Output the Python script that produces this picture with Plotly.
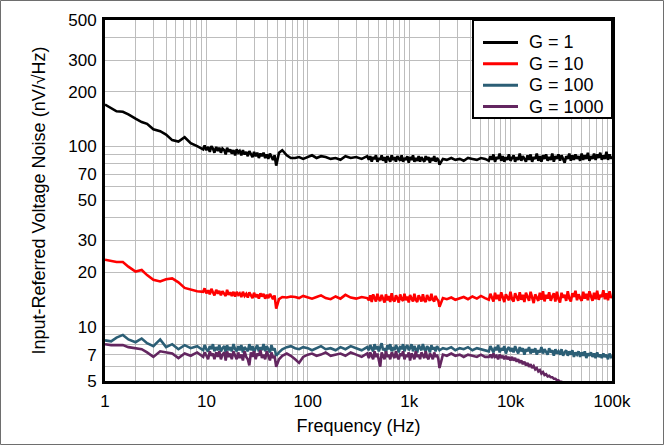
import plotly.graph_objects as go

# ---------------- data ----------------
freq_a = [1, 1.15, 1.3, 1.5, 1.7, 2.0, 2.3, 2.6, 3.0, 3.5, 4.0, 4.6, 5.3, 6.1, 7.0, 8.1]
freq_b = [9.3, 9.6, 10.0, 10.4, 10.8, 11.2, 11.6, 12.0, 12.5, 13.0,
          13.4, 13.9, 14.4, 15.0, 15.5, 16.0, 16.6, 17.2, 17.8, 18.5,
          19.2, 19.9, 20.6, 21.3, 22.1, 22.9, 23.8, 24.7, 25.6, 26.5,
          27.5, 28.5, 29.5, 30.6, 31.7, 32.9, 34.1, 35.3, 36.6, 38.0,
          39.4, 40.8, 42.3, 43.8, 45.4, 47.0, 48.8]
freq_c = [52, 56, 62, 68, 75, 82, 90, 100, 110, 122, 135, 150, 168, 188, 210, 235, 265, 300, 340, 385]
freq_d = [400, 413, 427, 441, 455, 470, 486, 502, 518, 535,
          553, 571, 590, 609, 629, 650, 671, 693, 716, 740,
          764, 789, 815, 842, 870, 898, 928, 958, 990, 1020,
          1055, 1090, 1125, 1160, 1200, 1240, 1280, 1320, 1365, 1410,
          1455, 1500, 1550, 1600, 1655, 1710, 1765, 1820, 1880, 1940, 1990]
freq_e = [2150, 2350, 2600, 2850, 3150, 3450, 3800, 4200, 4650, 5100, 5600]
freq_f = [6100, 6320, 6550, 6780, 7020, 7270, 7530, 7800, 8080, 8370,
          8670, 8980, 9300, 9630, 9970, 10330, 10700, 11080, 11480, 11890,
          12310, 12750, 13210, 13680, 14170, 14680, 15200, 15750, 16310, 16890,
          17500, 18120, 18770, 19440, 20140, 20860, 21600, 22380, 23180, 24010,
          24870, 25760, 26680, 27630, 28620, 29650, 30710, 31800, 32940, 34120,
          35340, 36610, 37920, 39270, 40680, 42130, 43640, 45200, 46820, 48500,
          50230, 52030, 53890, 55820, 57820, 59890, 62030, 64250, 66550, 68930,
          71400, 73950, 76600, 79340, 82180, 85120, 88170, 91320, 94590, 97970, 100000]
freq = freq_a + freq_b + freq_c + freq_d + freq_e + freq_f

g1 = [170, 162, 156, 155, 150, 142, 136, 133, 124, 121, 116, 108, 106, 112, 104, 100,
      96, 101, 95, 99, 93, 100, 97, 92, 99, 94, 98, 92, 97, 95, 90, 98, 93, 96, 91, 95,
      89, 96, 92, 94, 89, 95, 90, 93, 88, 94, 90, 87, 93, 88, 92, 86, 91, 88, 92, 86,
      90, 85, 91, 87, 84, 89, 78,
      92, 95, 89, 86, 86, 87, 85, 87, 89, 86, 88, 87, 85, 86, 84, 88, 86, 87, 85, 88,
      84, 88, 82, 87, 85, 89, 82, 86, 84, 89, 83, 87, 81, 88, 85, 82, 89, 84, 87, 82,
      88, 85, 83, 89, 82, 86, 84, 88, 81, 87, 84, 89, 82, 86, 83, 88, 82, 87, 85, 82,
      88, 84, 87, 81, 86, 83, 88, 82, 86, 84, 79,
      85, 84, 86, 84, 85, 83, 86, 85, 84, 86, 85,
      83, 88, 84, 90, 82, 87, 85, 91, 83, 88, 82, 87, 84, 90, 83, 86, 89, 82, 87, 84,
      91, 83, 88, 85, 82, 89, 84, 90, 82, 87, 85, 91, 83, 88, 82, 89, 85, 90, 83, 87,
      84, 91, 82, 88, 85, 90, 83, 89, 84, 81, 88, 85, 91, 83, 89, 84, 90, 85, 88, 83,
      91, 84, 89, 85, 92, 83, 88, 85, 91, 84, 90, 86, 92, 84, 89, 85, 93, 84, 90, 85, 88]

g10 = [23.5, 23.2, 22.8, 22.8, 21.5, 20.2, 20.6, 19.3, 18.2, 17.8, 18.3, 18.5, 17.6, 16.4, 16.0, 15.7,
       15.6, 16.3, 15.3, 15.9, 15.1, 16.2, 15.5, 14.9, 16.0, 15.2, 15.8, 14.9, 15.7, 15.3, 14.8, 16.0,
       15.0, 15.5, 14.8, 15.6, 14.7, 15.6, 15.0, 15.3, 14.6, 15.6, 14.8, 15.2, 14.5, 15.5, 14.9, 14.4,
       15.4, 14.6, 15.1, 14.3, 15.3, 14.7, 15.2, 14.3, 15.0, 14.4, 15.2, 14.6, 14.2, 14.9, 12.6,
       14.2, 14.6, 14.5, 14.7, 14.6, 14.4, 14.8, 14.5, 14.3, 14.6, 14.9, 14.4, 14.2, 14.7, 14.3, 15.0,
       14.5, 14.3, 14.6, 14.4,
       14.0, 14.9, 13.7, 15.1, 14.4, 13.8, 15.2, 14.2, 13.9, 15.0, 14.3, 13.6, 15.1, 14.0, 14.8, 13.7,
       15.3, 14.1, 13.8, 14.9, 14.4, 13.6, 15.1, 14.2, 13.9, 15.2, 14.0, 14.7, 13.6, 15.0, 14.3, 13.8,
       15.2, 14.1, 13.7, 14.9, 14.4, 13.8, 15.1, 14.0, 13.7, 15.0, 14.3, 13.9, 15.2, 14.1, 13.8, 14.8,
       14.2, 13.9, 12.9,
       14.4, 14.2, 14.5, 14.1, 14.3, 14.6, 14.2, 14.7, 14.3, 14.8, 14.4,
       14.1, 15.2, 14.4, 13.8, 15.4, 14.2, 15.0, 13.9, 15.5, 14.3, 13.7, 15.1, 14.5, 14.0, 15.6, 14.2,
       13.8, 15.3, 14.6, 13.9, 15.5, 14.1, 15.0, 13.7, 15.4, 14.4, 13.9, 15.6, 14.2, 13.5, 15.1, 14.6,
       13.9, 15.4, 14.1, 15.7, 13.8, 15.0, 14.3, 15.5, 13.9, 14.7, 15.3, 13.8, 15.6, 14.2, 13.6, 15.4,
       14.5, 15.0, 13.9, 15.7, 14.3, 13.8, 15.3, 14.6, 15.8, 14.0, 15.1, 14.4, 13.9, 15.6, 14.3, 15.2,
       14.0, 15.7, 14.5, 13.9, 15.4, 14.2, 15.8, 14.1, 15.0, 14.6, 15.9, 14.2, 15.3, 14.0, 15.7, 14.4, 14.8]

g100 = [8.4, 8.3, 8.7, 9.0, 8.5, 8.2, 8.6, 8.1, 7.8, 8.5, 7.7, 8.0, 7.5, 7.9, 7.6, 7.8,
        7.4, 7.9, 7.5, 7.3, 7.8, 7.5, 8.0, 7.3, 7.7, 7.4, 7.9, 7.3, 7.6, 7.8, 7.2, 7.9,
        7.4, 7.7, 7.3, 8.0, 7.5, 7.3, 7.8, 7.4, 7.9, 7.2, 7.7, 7.5, 7.3, 8.0, 7.4, 7.8,
        7.2, 7.6, 7.9, 7.3, 7.7, 7.4, 8.0, 7.3, 7.8, 7.5, 7.2, 7.9, 7.4, 7.6, 6.9,
        7.2, 7.5, 7.7, 7.8, 7.6, 7.5, 7.7, 7.6, 7.4, 7.6, 7.8, 7.5, 7.6, 7.4, 7.7, 7.5,
        7.8, 7.6, 7.4, 7.7,
        7.4, 7.9, 7.6, 7.3, 8.0, 7.5, 7.8, 7.3, 7.7, 8.1, 7.4, 7.6, 7.2, 7.9, 7.5, 8.0,
        7.3, 7.7, 7.4, 7.9, 7.6, 7.2, 7.8, 7.5, 8.0, 7.3, 7.7, 7.9, 7.4, 7.6, 8.0, 7.3,
        7.8, 7.5, 7.2, 7.9, 7.6, 7.4, 8.0, 7.5, 7.3, 7.8, 7.6, 7.2, 7.9, 7.5, 7.7, 7.3,
        7.8, 7.5, 7.4,
        7.6, 7.5, 7.7, 7.4, 7.6, 7.5, 7.7, 7.4, 7.6, 7.5, 7.4,
        7.3, 7.8, 7.5, 7.2, 7.7, 7.4, 7.9, 7.2, 7.6, 7.4, 7.8, 7.1, 7.5, 7.7, 7.3, 7.6,
        7.2, 7.8, 7.4, 7.1, 7.7, 7.3, 7.6, 7.0, 7.5, 7.3, 7.7, 7.1, 7.5, 7.2, 7.6, 7.0,
        7.4, 7.2, 7.7, 7.1, 7.5, 7.3, 7.0, 7.6, 7.2, 7.4, 6.9, 7.5, 7.1, 7.3, 7.0, 7.5,
        6.9, 7.2, 7.4, 6.9, 7.3, 7.0, 7.4, 6.8, 7.2, 7.0, 7.3, 6.8, 7.2, 6.9, 7.3, 6.7,
        7.1, 6.9, 7.2, 6.8, 7.1, 6.7, 7.2, 6.8, 7.0, 6.7, 7.1, 6.8, 7.0, 6.6, 7.1, 6.8, 6.9]

g1000 = [8.0, 7.9, 7.9, 7.9, 7.7, 7.6, 7.5, 7.2, 6.8, 7.3, 7.2, 7.1, 6.7, 7.1, 6.9, 7.2,
         6.8, 7.2, 6.9, 6.6, 7.3, 6.9, 7.1, 6.6, 7.2, 6.8, 7.3, 6.6, 7.0, 7.2, 6.5, 7.3,
         6.8, 7.1, 6.6, 7.3, 6.9, 6.6, 7.2, 6.7, 7.0, 6.5, 7.3, 6.8, 6.6, 6.1, 7.2, 6.8,
         7.3, 6.6, 7.1, 6.9, 7.4, 6.7, 7.0, 6.6, 7.3, 6.8, 6.5, 7.2, 6.7, 6.9, 6.0,
         6.6, 6.9, 7.1, 6.9, 6.6, 6.3, 6.8, 7.0, 7.1, 6.9, 7.0, 7.2, 6.9, 7.0, 7.1, 6.9,
         7.2, 7.0, 6.8, 7.1,
         6.7, 7.2, 6.9, 6.6, 7.3, 6.8, 7.1, 6.6, 6.0, 7.2, 6.9, 6.6, 7.3, 6.8, 7.0, 6.6,
         7.2, 6.9, 6.7, 7.3, 6.8, 6.6, 7.1, 6.9, 7.3, 6.6, 7.0, 6.8, 7.2, 6.5, 7.1, 6.9,
         6.6, 7.3, 6.8, 7.0, 6.6, 7.2, 6.9, 6.7, 7.3, 6.8, 6.6, 7.1, 6.9, 6.6, 7.2, 6.8,
         7.0, 6.6, 5.9,
         7.0, 6.9, 7.1, 6.9, 7.0, 6.8, 7.0, 6.9, 6.8, 7.0, 6.8,
         6.8, 7.0, 6.7, 7.1, 6.8, 6.9, 6.6, 7.0, 6.7, 6.9, 6.6, 6.9, 6.6, 6.8, 6.5, 6.8,
         6.5, 6.7, 6.4, 6.6, 6.3, 6.5, 6.2, 6.4, 6.1, 6.3, 6.0, 6.2, 5.9, 6.05, 5.8, 5.9,
         5.65, 5.75, 5.5, 5.6, 5.4, 5.45, 5.3, 5.35, 5.25, 5.25, 5.15, 5.15, 5.05, 5.05, 4.95, 4.95,
         4.85, 4.8, 4.7, 4.65, 4.6, 4.55, 4.5, 4.45, 4.4, 4.35, 4.3, 4.25, 4.2, 4.15, 4.1, 4.05,
         4.0, 3.95, 3.9, 3.85, 3.8, 3.75, 3.7, 3.65, 3.6, 3.55, 3.5, 3.45, 3.4, 3.35, 3.3, 3.25, 3.2]

series_names = ["G = 1", "G = 10", "G = 100", "G = 1000"]
series_colors = ["#000000", "#FF0000", "#2B5E75", "#632660"]

y_grid = [5, 6, 7, 8, 9, 10, 20, 30, 40, 50, 60, 70, 80, 90, 100, 200, 300, 400, 500]
y_labels = {5: "5", 7: "7", 10: "10", 20: "20", 30: "30", 50: "50", 70: "70",
            100: "100", 200: "200", 300: "300", 500: "500"}
x_grid = [m * 10 ** d for d in range(5) for m in range(1, 10)] + [100000]
x_labels = {1: "1", 10: "10", 100: "100", 1000: "1k", 10000: "10k", 100000: "100k"}

# ---------------- figure ----------------
FONT = "Liberation Sans, Arial, sans-serif"
fig = go.Figure()
for name, vals, col in zip(series_names, [g1, g10, g100, g1000], series_colors):
    fig.add_trace(go.Scatter(x=freq, y=vals, mode="lines", name=name,
                             line=dict(color=col, width=2.6)))

# plot area: 105..612 px wide (507), 20..381 px high (361)
PW, PH = 507.0, 361.0
shapes = [dict(type="rect", xref="paper", yref="paper",
               x0=-104.5 / PW, x1=558.5 / PW, y0=-63.5 / PH, y1=380.5 / PH,
               line=dict(color="#6E6E6E", width=1), fillcolor="rgba(0,0,0,0)",
               layer="below")]
# legend box
shapes.append(dict(type="rect", xref="paper", yref="paper",
                   x0=(473 - 105) / PW, x1=1, y0=1 - (118 - 20) / PH, y1=1,
                   line=dict(color="#000000", width=2), fillcolor="white", layer="above"))
annotations = []
leg_rows = [42.5, 63.8, 85.2, 106.5]
for name, col, yy in zip(series_names, series_colors, leg_rows):
    py = 1 - (yy - 20) / PH
    shapes.append(dict(type="line", xref="paper", yref="paper",
                       x0=(483 - 105) / PW, x1=(518 - 105) / PW, y0=py, y1=py,
                       line=dict(color=col, width=3), layer="above"))
    annotations.append(dict(xref="paper", yref="paper", x=(527 - 105) / PW, y=py,
                            xanchor="left", yanchor="middle", showarrow=False,
                            text=name, font=dict(family=FONT, size=18, color="#000000")))

fig.update_layout(
    width=664, height=445,
    margin=dict(l=105, r=52, t=20, b=64, autoexpand=False),
    paper_bgcolor="white", plot_bgcolor="white",
    font=dict(family=FONT, size=17, color="#000000"),
    showlegend=False,
    xaxis=dict(type="log", range=[0, 5],
               tickmode="array", tickvals=x_grid,
               ticktext=[x_labels.get(v, "") for v in x_grid],
               tickfont=dict(size=17), ticklabelstandoff=3,
               showgrid=True, gridcolor="#BDBDBD", gridwidth=1,
               showline=True, linecolor="#000000", linewidth=3, mirror=True,
               ticks="", zeroline=False,
               title=dict(text="Frequency (Hz)", standoff=9, font=dict(size=18))),
    yaxis=dict(type="log", range=[0.69897, 2.69897],
               tickmode="array", tickvals=y_grid,
               ticktext=[y_labels.get(v, "") for v in y_grid],
               tickfont=dict(size=17), ticklabelstandoff=2,
               showgrid=True, gridcolor="#BDBDBD", gridwidth=1,
               showline=True, linecolor="#000000", linewidth=3, mirror=True,
               ticks="", zeroline=False,
               title=dict(text="Input-Referred Voltage Noise (nV/√Hz)", standoff=18,
                          font=dict(size=18))),
    shapes=shapes,
    annotations=annotations,
)

fig.write_html("out.html", config={"displayModeBar": False},
               post_script="document.body.style.margin='0';")
